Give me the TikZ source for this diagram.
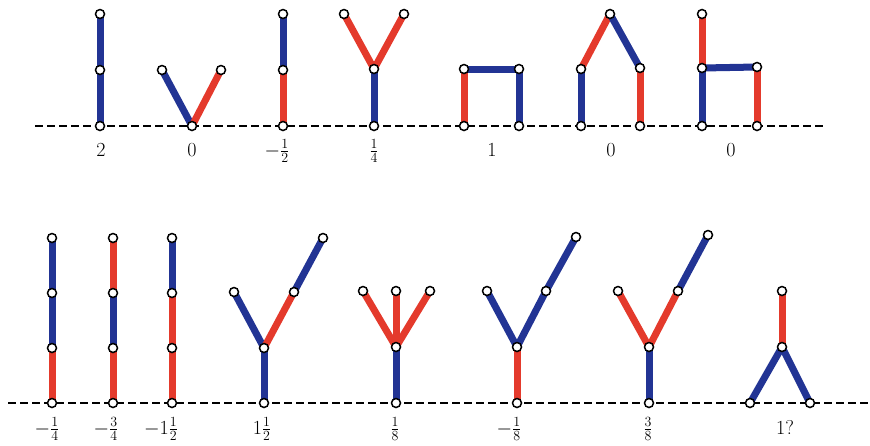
\documentclass[tikz,border=0pt]{standalone}
\usepackage{amsmath}
\usepackage{fix-cm}
\definecolor{eblue}{RGB}{34,52,148}
\definecolor{ered}{RGB}{228,58,44}
\begin{document}
\begin{tikzpicture}[x=1pt,y=-1pt,
  bl/.style={draw=eblue,line width=7pt},
  rd/.style={draw=ered,line width=7pt},
  pt/.style={circle,draw=black,fill=white,line width=1.5pt,inner sep=0pt,minimum size=9pt},
  ground/.style={draw=black,line width=1.8pt,dash pattern=on 8pt off 4pt},
  lab/.style={anchor=base,font=\fontsize{20}{22}\selectfont,inner sep=0pt}]
\useasboundingbox (0,0) rectangle (870,445);
% ground lines
\coordinate (g1l) at (35,126); \coordinate (g1r) at (825,126);
\coordinate (g2l) at (8,403); \coordinate (g2r) at (868,403);
\draw[ground] (g1l) -- (g1r);
\draw[ground] (g2l) -- (g2r);
% ---------- top row ----------
\coordinate (t1a) at (100,126); \coordinate (t1b) at (100,70); \coordinate (t1c) at (100,14);
\coordinate (t2a) at (192,126); \coordinate (t2b) at (162,70); \coordinate (t2c) at (221,70);
\coordinate (t3a) at (283,126); \coordinate (t3b) at (283,70); \coordinate (t3c) at (283,14);
\coordinate (t4a) at (374,126); \coordinate (t4b) at (374,69); \coordinate (t4c) at (344,14); \coordinate (t4d) at (404,14);
\coordinate (t5a) at (464,126); \coordinate (t5b) at (464,69); \coordinate (t5c) at (519,69); \coordinate (t5d) at (519,126);
\coordinate (t6a) at (581,126); \coordinate (t6b) at (581,69); \coordinate (t6c) at (610,14); \coordinate (t6d) at (640,68); \coordinate (t6e) at (640,126);
\coordinate (t7a) at (702,126); \coordinate (t7b) at (702,68); \coordinate (t7c) at (702,14); \coordinate (t7d) at (757,67); \coordinate (t7e) at (757,126);
\draw[bl] (t1a) -- (t1b); \draw[bl] (t1b) -- (t1c);
\draw[bl] (t2a) -- (t2b); \draw[rd] (t2a) -- (t2c);
\draw[rd] (t3a) -- (t3b); \draw[bl] (t3b) -- (t3c);
\draw[bl] (t4a) -- (t4b); \draw[rd] (t4b) -- (t4c); \draw[rd] (t4b) -- (t4d);
\draw[rd] (t5a) -- (t5b); \draw[bl] (t5b) -- (t5c); \draw[bl] (t5c) -- (t5d);
\draw[bl] (t6a) -- (t6b); \draw[rd] (t6b) -- (t6c); \draw[bl] (t6c) -- (t6d); \draw[rd] (t6d) -- (t6e);
\draw[bl] (t7a) -- (t7b); \draw[rd] (t7b) -- (t7c); \draw[bl] (t7b) -- (t7d); \draw[rd] (t7d) -- (t7e);
\foreach \n in {t1a,t1b,t1c,t2a,t2b,t2c,t3a,t3b,t3c,t4a,t4b,t4c,t4d,t5a,t5b,t5c,t5d,t6a,t6b,t6c,t6d,t6e,t7a,t7b,t7c,t7d,t7e}
  \node[pt] (n-\n) at (\n) {};
% top labels
\node[lab] (l1) at (101,156) {2};
\node[lab] (l2) at (192,156) {0};
\node[lab] (l3) at (277,156) {$-\frac{1}{2}$};
\node[lab] (l4) at (374,156) {$\frac{1}{4}$};
\node[lab] (l5) at (492,156) {1};
\node[lab] (l6) at (611,156) {0};
\node[lab] (l7) at (731,156) {0};
% ---------- bottom row ----------
\coordinate (b1a) at (52,403); \coordinate (b1b) at (52,348); \coordinate (b1c) at (52,293); \coordinate (b1d) at (52,238);
\coordinate (b2a) at (113,403); \coordinate (b2b) at (113,348); \coordinate (b2c) at (113,293); \coordinate (b2d) at (113,238);
\coordinate (b3a) at (172,403); \coordinate (b3b) at (172,348); \coordinate (b3c) at (172,293); \coordinate (b3d) at (172,238);
\coordinate (b4a) at (264,403); \coordinate (b4b) at (264,348); \coordinate (b4c) at (234,292); \coordinate (b4d) at (294,292); \coordinate (b4e) at (323,238);
\coordinate (b5a) at (396,403); \coordinate (b5b) at (396,347); \coordinate (b5c) at (363,291); \coordinate (b5d) at (396,291); \coordinate (b5e) at (430,291);
\coordinate (b6a) at (517,403); \coordinate (b6b) at (517,347); \coordinate (b6c) at (487,291); \coordinate (b6d) at (546,291); \coordinate (b6e) at (576,237);
\coordinate (b7a) at (649,403); \coordinate (b7b) at (649,347); \coordinate (b7c) at (618,291); \coordinate (b7d) at (678,291); \coordinate (b7e) at (708,235);
\coordinate (b8a) at (750,403); \coordinate (b8b) at (810,403); \coordinate (b8c) at (782,347); \coordinate (b8d) at (782,291);
\draw[rd] (b1a) -- (b1b); \draw[bl] (b1b) -- (b1c); \draw[bl] (b1c) -- (b1d);
\draw[rd] (b2a) -- (b2b); \draw[bl] (b2b) -- (b2c); \draw[rd] (b2c) -- (b2d);
\draw[rd] (b3a) -- (b3b); \draw[rd] (b3b) -- (b3c); \draw[bl] (b3c) -- (b3d);
\draw[bl] (b4a) -- (b4b); \draw[bl] (b4b) -- (b4c); \draw[rd] (b4b) -- (b4d); \draw[bl] (b4d) -- (b4e);
\draw[bl] (b5a) -- (b5b); \draw[rd] (b5b) -- (b5c); \draw[rd] (b5b) -- (b5d); \draw[rd] (b5b) -- (b5e);
\draw[rd] (b6a) -- (b6b); \draw[bl] (b6b) -- (b6c); \draw[bl] (b6b) -- (b6d); \draw[bl] (b6d) -- (b6e);
\draw[bl] (b7a) -- (b7b); \draw[rd] (b7b) -- (b7c); \draw[rd] (b7b) -- (b7d); \draw[bl] (b7d) -- (b7e);
\draw[bl] (b8a) -- (b8c); \draw[bl] (b8b) -- (b8c); \draw[rd] (b8c) -- (b8d);
\foreach \n in {b1a,b1b,b1c,b1d,b2a,b2b,b2c,b2d,b3a,b3b,b3c,b3d,b4a,b4b,b4c,b4d,b4e,b5a,b5b,b5c,b5d,b5e,b6a,b6b,b6c,b6d,b6e,b7a,b7b,b7c,b7d,b7e,b8a,b8b,b8c,b8d}
  \node[pt] (n-\n) at (\n) {};
% bottom labels
\node[lab] (m1) at (47,434) {$-\frac{1}{4}$};
\node[lab] (m2) at (106,434) {$-\frac{3}{4}$};
\node[lab] (m3) at (161,434) {$-1\frac{1}{2}$};
\node[lab] (m4) at (262,434) {$1\frac{1}{2}$};
\node[lab] (m5) at (395,434) {$\frac{1}{8}$};
\node[lab] (m6) at (509,434) {$-\frac{1}{8}$};
\node[lab] (m7) at (648,434) {$\frac{3}{8}$};
\node[lab] (m8) at (785,434) {1?};
\end{tikzpicture}
\end{document}
